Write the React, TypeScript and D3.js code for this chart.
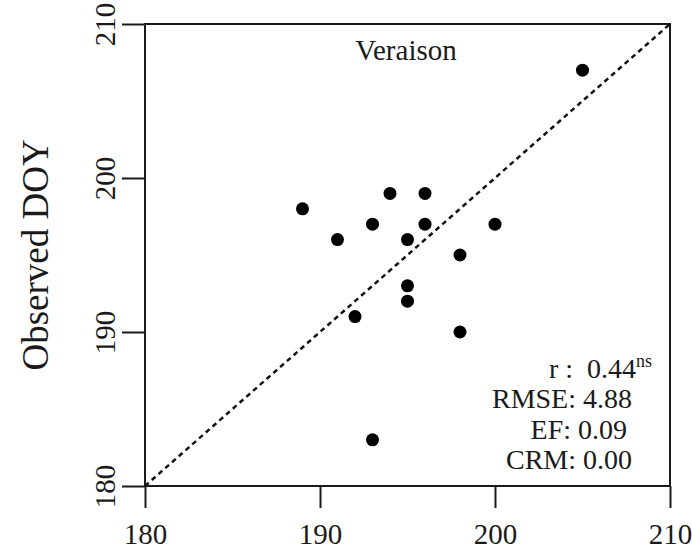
import React, { useRef, useEffect } from 'react';
import * as d3 from 'd3';

// simulated vs observed veraison day of year
const simulated = [205, 189, 191, 193, 194, 196, 195, 196, 198, 200, 195, 195, 192, 198, 193];
const observed = [207, 198, 196, 197, 199, 199, 196, 197, 195, 197, 193, 192, 191, 190, 183];
const tickValues = [180, 190, 200, 210];
const panelTitle = 'Veraison';
const yTitle = 'Observed DOY';
const statLabels = ['RMSE: 4.88', 'EF: 0.09', 'CRM: 0.00'];

const width = 692;
const height = 556;
const margin = { top: 24, right: 22, bottom: 70, left: 145 };
const font = 'Liberation Serif, Times New Roman, serif';
const ink = '#1a1a1a';

export default function App() {
  const ref = useRef<SVGSVGElement>(null);

  useEffect(() => {
    const svg = d3.select(ref.current);
    svg.selectAll('*').remove();

    const x = d3.scaleLinear().domain([180, 210]).range([margin.left, width - margin.right]);
    const y = d3.scaleLinear().domain([180, 210]).range([height - margin.bottom, margin.top]);

    // x axis, outward ticks
    const gx = svg
      .append('g')
      .attr('transform', `translate(0,${y(180)})`)
      .call(d3.axisBottom(x).tickValues(tickValues).tickSize(22).tickSizeOuter(0));
    gx.attr('font-family', font);
    gx.select('.domain').remove();
    gx.selectAll('line').attr('stroke', ink).attr('stroke-width', 2);
    gx.selectAll('text')
      .attr('font-family', font)
      .attr('font-size', 29)
      .attr('fill', ink)
      .attr('dy', null)
      .attr('y', 58);

    // y axis, rotated labels
    const gy = svg
      .append('g')
      .attr('transform', `translate(${x(180)},0)`)
      .call(d3.axisLeft(y).tickValues(tickValues).tickSize(23).tickSizeOuter(0));
    gy.attr('font-family', font);
    gy.select('.domain').remove();
    gy.selectAll('line').attr('stroke', ink).attr('stroke-width', 2);
    gy.selectAll('text')
      .attr('font-family', font)
      .attr('font-size', 29)
      .attr('fill', ink)
      .attr('x', null)
      .attr('dy', null)
      .attr('text-anchor', 'middle')
      .attr('transform', 'translate(-30,0) rotate(-90)');

    // frame
    svg
      .append('rect')
      .attr('x', x(180))
      .attr('y', y(210))
      .attr('width', x(210) - x(180))
      .attr('height', y(180) - y(210))
      .attr('fill', 'none')
      .attr('stroke', ink)
      .attr('stroke-width', 2);

    // 1:1 line
    svg
      .append('line')
      .attr('x1', x(180))
      .attr('y1', y(180))
      .attr('x2', x(210))
      .attr('y2', y(210))
      .attr('stroke', '#111')
      .attr('stroke-width', 2.5)
      .attr('stroke-dasharray', '5,4');

    // points
    svg
      .append('g')
      .selectAll('circle')
      .data(simulated)
      .join('circle')
      .attr('cx', d => x(d))
      .attr('cy', (d, i) => y(observed[i]))
      .attr('r', 6.5)
      .attr('fill', '#000');

    svg
      .append('text')
      .attr('x', 406)
      .attr('y', 60)
      .attr('text-anchor', 'middle')
      .attr('font-family', font)
      .attr('font-size', 29)
      .attr('fill', ink)
      .text(panelTitle);

    svg
      .append('text')
      .attr('transform', `translate(48,${(y(180) + y(210)) / 2}) rotate(-90)`)
      .attr('text-anchor', 'middle')
      .attr('font-family', font)
      .attr('font-size', 37)
      .attr('fill', ink)
      .text(yTitle);

    // stats block
    const stats = svg
      .append('g')
      .attr('font-family', font)
      .attr('font-size', 28)
      .attr('fill', ink)
      .attr('text-anchor', 'end');
    const rLine = stats.append('text').attr('x', 652).attr('y', 378).style('white-space', 'pre');
    rLine.append('tspan').text('r :  0.44');
    rLine.append('tspan').attr('font-size', 18).attr('dy', -11).text('ns');
    const rowY = [408, 439, 469];
    stats
      .selectAll('text.row')
      .data(statLabels)
      .join('text')
      .attr('class', 'row')
      .attr('x', (d, i) => (i === 1 ? 627 : 632))
      .attr('y', (d, i) => rowY[i])
      .text(d => d);
  }, []);

  return (
    <svg
      ref={ref}
      width={width}
      height={height}
      style={{ position: 'absolute', left: 0, top: 0, background: '#fff' }}
    />
  );
}
